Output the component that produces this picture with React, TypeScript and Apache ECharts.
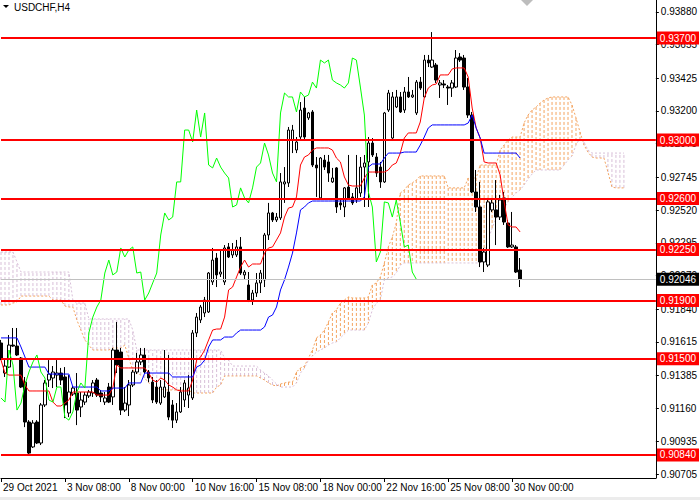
import React, { useEffect, useRef } from "react";
import * as echarts from "echarts";

const FONT = '"Liberation Sans", Arial, sans-serif';

// bottom time labels, one every 16 H4 bars
const xLabels = [
  "29 Oct 2021", "3 Nov 08:00", "8 Nov 00:00", "10 Nov 16:00", "15 Nov 08:00",
  "18 Nov 00:00", "22 Nov 16:00", "25 Nov 08:00", "30 Nov 00:00",
];
const LABEL_STEP = 16;
const SLOTS = 165; // 131 candles + 26 projected cloud bars + free space
const CHIKOU_SHIFT = 26;

const yTicks = [
  0.90705, 0.90935, 0.9116, 0.91385, 0.91615, 0.9184, 0.9207, 0.92295,
  0.9252, 0.92745, 0.92975, 0.932, 0.93425, 0.93655, 0.9388,
];
const priceMin = 0.90682;
const priceMax = 0.93961;

const levels = [0.937, 0.93, 0.926, 0.9225, 0.919, 0.915, 0.9084];
const lastPrice = 0.92046;

// [open, close, low, high]
const candles = [
  [0.91608, 0.91505, 0.91491, 0.91629], [0.91402, 0.9145, 0.91375, 0.91491],
  [0.91443, 0.91594, 0.91437, 0.91663], [0.91594, 0.91587, 0.91581, 0.91711],
  [0.91587, 0.91526, 0.91519, 0.91711], [0.91505, 0.91306, 0.91299, 0.91512],
  [0.9134, 0.91066, 0.91031, 0.91375], [0.91066, 0.90853, 0.9084, 0.91079],
  [0.90895, 0.91059, 0.90888, 0.91079], [0.91066, 0.90922, 0.90915, 0.91079],
  [0.90922, 0.91183, 0.90908, 0.91196], [0.91183, 0.91334, 0.91169, 0.91354],
  [0.91354, 0.91395, 0.91306, 0.91491], [0.91368, 0.91409, 0.91299, 0.9145],
  [0.91388, 0.91402, 0.91306, 0.91491], [0.91402, 0.91354, 0.9132, 0.91437],
  [0.91375, 0.91183, 0.91093, 0.91443], [0.91128, 0.91272, 0.911, 0.91388],
  [0.91258, 0.91299, 0.91245, 0.91313], [0.91265, 0.91148, 0.91045, 0.91402],
  [0.91169, 0.91217, 0.911, 0.91272], [0.91203, 0.91251, 0.91183, 0.91272],
  [0.91245, 0.91272, 0.91231, 0.91286], [0.91265, 0.91334, 0.91238, 0.91354],
  [0.91354, 0.91251, 0.91238, 0.91368], [0.91265, 0.91238, 0.91203, 0.91286],
  [0.91203, 0.91231, 0.91183, 0.91272], [0.91306, 0.91203, 0.91196, 0.91334],
  [0.91238, 0.9156, 0.91183, 0.91574], [0.9156, 0.91457, 0.91402, 0.91752],
  [0.91546, 0.91148, 0.91114, 0.91574], [0.91148, 0.91196, 0.91135, 0.91306],
  [0.91183, 0.9132, 0.91107, 0.91354], [0.9132, 0.91409, 0.91306, 0.91423],
  [0.91409, 0.91478, 0.91395, 0.9154], [0.91478, 0.91526, 0.91457, 0.91574],
  [0.91526, 0.91409, 0.91395, 0.91574], [0.91409, 0.91368, 0.9134, 0.91423],
  [0.9134, 0.91217, 0.91196, 0.91375], [0.91306, 0.91203, 0.9119, 0.91354],
  [0.91196, 0.91306, 0.91183, 0.91354], [0.91238, 0.91306, 0.91231, 0.9156],
  [0.91272, 0.911, 0.91079, 0.91526], [0.91183, 0.91079, 0.91025, 0.91217],
  [0.91079, 0.91135, 0.91059, 0.91196], [0.91135, 0.91272, 0.91128, 0.91306],
  [0.91217, 0.91334, 0.91169, 0.91354], [0.91251, 0.91299, 0.91162, 0.91388],
  [0.91231, 0.91677, 0.91217, 0.91697], [0.91677, 0.91786, 0.91649, 0.91814],
  [0.91766, 0.91855, 0.91745, 0.91869], [0.91814, 0.91903, 0.91786, 0.91924],
  [0.91821, 0.92088, 0.91814, 0.92095], [0.92027, 0.92177, 0.92006, 0.9226],
  [0.92191, 0.92075, 0.91992, 0.92225], [0.92081, 0.92095, 0.92061, 0.92246],
  [0.92027, 0.9226, 0.92006, 0.9228], [0.92267, 0.92198, 0.92191, 0.92294],
  [0.92212, 0.92246, 0.92191, 0.92294], [0.92212, 0.92267, 0.92198, 0.92315],
  [0.92267, 0.92088, 0.92075, 0.92335], [0.92075, 0.92095, 0.92041, 0.92109],
  [0.92006, 0.91903, 0.91889, 0.92095], [0.91903, 0.91951, 0.91869, 0.91972],
  [0.91951, 0.9202, 0.91924, 0.92088], [0.9202, 0.92088, 0.91951, 0.92109],
  [0.92041, 0.92349, 0.91992, 0.92363], [0.92349, 0.925, 0.92315, 0.92569],
  [0.925, 0.92452, 0.92438, 0.92507], [0.92452, 0.92472, 0.92438, 0.925],
  [0.92466, 0.92713, 0.92452, 0.92774], [0.92699, 0.92713, 0.92569, 0.92815],
  [0.92706, 0.93069, 0.92678, 0.9309], [0.93001, 0.93069, 0.92911, 0.93104],
  [0.92932, 0.92987, 0.92911, 0.93021], [0.93021, 0.93206, 0.93001, 0.93261],
  [0.9322, 0.93021, 0.93001, 0.93296], [0.93152, 0.93186, 0.93138, 0.93193],
  [0.93193, 0.92829, 0.92815, 0.93206], [0.92829, 0.92809, 0.9261, 0.92884],
  [0.92603, 0.92877, 0.92589, 0.92884], [0.92863, 0.92815, 0.92795, 0.92898],
  [0.9285, 0.92774, 0.92713, 0.92898], [0.92713, 0.9274, 0.92706, 0.92809],
  [0.92809, 0.92541, 0.925, 0.92815], [0.92569, 0.92555, 0.92521, 0.92589],
  [0.92541, 0.92672, 0.92472, 0.92678], [0.92678, 0.92603, 0.92589, 0.92898],
  [0.9261, 0.92569, 0.92555, 0.92637], [0.92589, 0.92672, 0.92569, 0.92898],
  [0.92637, 0.92815, 0.9261, 0.92884], [0.92815, 0.92843, 0.92541, 0.92898],
  [0.9285, 0.9298, 0.92541, 0.93021], [0.9298, 0.92898, 0.92884, 0.93014],
  [0.92884, 0.92774, 0.92747, 0.92911], [0.92815, 0.92713, 0.92672, 0.9285],
  [0.92713, 0.93186, 0.92706, 0.93193], [0.93206, 0.93323, 0.93193, 0.93344],
  [0.93014, 0.93296, 0.93001, 0.9333], [0.93227, 0.93296, 0.9322, 0.93344],
  [0.93296, 0.93193, 0.93186, 0.9333], [0.93206, 0.9333, 0.93186, 0.93364],
  [0.9333, 0.93296, 0.93289, 0.93433], [0.93296, 0.93309, 0.93289, 0.93344],
  [0.93186, 0.93398, 0.93172, 0.93412], [0.93398, 0.93357, 0.93344, 0.93433],
  [0.93296, 0.93549, 0.93289, 0.93584], [0.93549, 0.93529, 0.93501, 0.93584],
  [0.93501, 0.93549, 0.93495, 0.93741], [0.93515, 0.93412, 0.93392, 0.93529],
  [0.93378, 0.93392, 0.93289, 0.93412], [0.93385, 0.93378, 0.93357, 0.93412],
  [0.93364, 0.93357, 0.93241, 0.93378], [0.93357, 0.93392, 0.93296, 0.93412],
  [0.93364, 0.93563, 0.93357, 0.93618], [0.9357, 0.93549, 0.93536, 0.93597],
  [0.93563, 0.93364, 0.93344, 0.93584], [0.93364, 0.93172, 0.93152, 0.93426],
  [0.93172, 0.92644, 0.92637, 0.93193], [0.92644, 0.92541, 0.92507, 0.92795],
  [0.92541, 0.92164, 0.92129, 0.92713], [0.92164, 0.92232, 0.92095, 0.9226],
  [0.92143, 0.92576, 0.92129, 0.92603], [0.92521, 0.92569, 0.92507, 0.92589],
  [0.92521, 0.92472, 0.9228, 0.92726], [0.92472, 0.92589, 0.92452, 0.92624],
  [0.92603, 0.92438, 0.92418, 0.92644], [0.92431, 0.92267, 0.9226, 0.92452],
  [0.92267, 0.9228, 0.9226, 0.92507], [0.92267, 0.92095, 0.92088, 0.9228],
  [0.92109, 0.92046, 0.91992, 0.92191],
];

// Ichimoku Tenkan-sen (red)
const tenkan = [
  0.91491, 0.91402, 0.91388, 0.91388, 0.91388, 0.91388, 0.9132, 0.91279, 0.91279, 0.91279,
  0.91279, 0.91279, 0.91279, 0.91203, 0.91176, 0.91176, 0.91196, 0.91217, 0.91272, 0.91272,
  0.91272, 0.91272, 0.91272, 0.91272, 0.91251, 0.91251, 0.91251, 0.91251, 0.91299, 0.91457,
  0.91437, 0.91437, 0.91437, 0.91437, 0.91437, 0.91437, 0.91437, 0.91402, 0.91354, 0.9134,
  0.91368, 0.91354, 0.9132, 0.91306, 0.91286, 0.91279, 0.91279, 0.91279, 0.91354, 0.91491,
  0.91512, 0.9156, 0.91629, 0.91697, 0.91704, 0.91704, 0.91786, 0.91972, 0.91992, 0.92061,
  0.92129, 0.92177, 0.92129, 0.9215, 0.9215, 0.9215, 0.92225, 0.9226, 0.92267, 0.92315,
  0.92363, 0.92472, 0.92534, 0.92541, 0.9261, 0.92829, 0.92884, 0.92898, 0.92932, 0.92946,
  0.92946, 0.92946, 0.92946, 0.92932, 0.92877, 0.9285, 0.92747, 0.92692, 0.92685, 0.92685,
  0.92685, 0.9274, 0.92781, 0.92781, 0.92781, 0.92781, 0.92781, 0.92795, 0.92829, 0.92843,
  0.92911, 0.93014, 0.93049, 0.93049, 0.93049, 0.93124, 0.93289, 0.93357, 0.93378, 0.93385,
  0.93447, 0.93447, 0.93447, 0.93488, 0.93495, 0.93495, 0.93495, 0.93433, 0.9322, 0.93083,
  0.93014, 0.9285, 0.92843, 0.92843, 0.92843, 0.92761, 0.92576, 0.92418, 0.92404, 0.92404,
  0.9237,
];

// Ichimoku Kijun-sen (blue)
const kijun = [
  0.91643, 0.91643, 0.91643, 0.91643, 0.91643, 0.91581, 0.91512, 0.91443, 0.91443, 0.91443,
  0.91443, 0.91443, 0.91395, 0.91395, 0.91395, 0.91395, 0.91395, 0.91395, 0.91306, 0.91306,
  0.91306, 0.91306, 0.91306, 0.91306, 0.91306, 0.91279, 0.91279, 0.91279, 0.91299, 0.91299,
  0.91299, 0.91299, 0.91334, 0.91334, 0.91334, 0.91334, 0.91402, 0.91402, 0.91402, 0.91402,
  0.91402, 0.91402, 0.91402, 0.91375, 0.91375, 0.91375, 0.91375, 0.91375, 0.91375, 0.91443,
  0.91457, 0.91491, 0.91581, 0.91629, 0.91629, 0.91629, 0.91649, 0.91649, 0.91649, 0.91677,
  0.91697, 0.91697, 0.91697, 0.91697, 0.91697, 0.91697, 0.91718, 0.91786, 0.918, 0.91855,
  0.91972, 0.92041, 0.92129, 0.92225, 0.92363, 0.92521, 0.92541, 0.92569, 0.92582, 0.92582,
  0.92582, 0.92582, 0.92582, 0.92582, 0.92582, 0.92582, 0.92582, 0.92582, 0.92582, 0.92582,
  0.92582, 0.9261, 0.92815, 0.92836, 0.92836, 0.92836, 0.92877, 0.92911, 0.92911, 0.92911,
  0.92911, 0.92918, 0.92918, 0.92918, 0.92918, 0.92966, 0.93021, 0.93083, 0.93104, 0.93104,
  0.93104, 0.93104, 0.93104, 0.93104, 0.93104, 0.93104, 0.93104, 0.93117, 0.93172, 0.93083,
  0.93014, 0.92911, 0.92911, 0.92911, 0.92911, 0.92911, 0.92911, 0.92911, 0.92911, 0.92911,
  0.92877,
];

// Senkou Span A (sandy brown) and Span B (thistle), 26 bars ahead of price
const spanA = [
  0.91869, 0.91869, 0.91869, 0.91882, 0.91889, 0.9193, 0.9193, 0.9193, 0.9193, 0.9193,
  0.9193, 0.9193, 0.9193, 0.91903, 0.91903, 0.91903, 0.91862, 0.91855, 0.91855, 0.91766,
  0.91697, 0.91629, 0.91594, 0.9156, 0.9156, 0.9156, 0.9156, 0.9156, 0.91574, 0.91574,
  0.91574, 0.91594, 0.91505, 0.91423, 0.91402, 0.91388, 0.91368, 0.91334, 0.91313, 0.91299,
  0.91293, 0.91286, 0.91286, 0.91286, 0.91286, 0.91286, 0.91286, 0.91286, 0.91265, 0.91265,
  0.91265, 0.91265, 0.91265, 0.91265, 0.91306, 0.9132, 0.91382, 0.91382, 0.91382, 0.91382,
  0.91382, 0.91382, 0.91382, 0.91382, 0.91382, 0.91368, 0.91354, 0.91334, 0.9132, 0.91313,
  0.91327, 0.91334, 0.9134, 0.9134, 0.91409, 0.91437, 0.9145, 0.91505, 0.9156, 0.91643,
  0.91663, 0.91697, 0.91752, 0.91814, 0.91835, 0.91882, 0.91903, 0.91924, 0.91917, 0.91917,
  0.91917, 0.91917, 0.91924, 0.92006, 0.9202, 0.92061, 0.92157, 0.92267, 0.92335, 0.92431,
  0.92637, 0.92658, 0.92692, 0.92706, 0.92726, 0.92754, 0.92754, 0.92754, 0.92754, 0.92754,
  0.92754, 0.92754, 0.92672, 0.92672, 0.92672, 0.92672, 0.92672, 0.9274, 0.9274, 0.9274,
  0.92829, 0.92829, 0.92829, 0.92829, 0.92829, 0.92932, 0.92966, 0.93001, 0.93021, 0.93021,
  0.93021, 0.93117, 0.93172, 0.93206, 0.93227, 0.93254, 0.93275, 0.93289, 0.93296, 0.93296,
  0.93296, 0.93296, 0.93296, 0.93241, 0.93152, 0.93056, 0.92966, 0.92918, 0.92884, 0.92877,
  0.92877, 0.92877, 0.92781, 0.92678, 0.92672, 0.92672, 0.92672,
];

const spanB = [
  0.92232, 0.92232, 0.92232, 0.92232, 0.92164, 0.92095, 0.92095, 0.92095, 0.92095, 0.92095,
  0.92095, 0.92095, 0.92095, 0.92095, 0.92095, 0.92095, 0.92095, 0.92095, 0.91903, 0.91882,
  0.91882, 0.91882, 0.91773, 0.91773, 0.91773, 0.91773, 0.91773, 0.91773, 0.91773, 0.91773,
  0.91773, 0.91773, 0.91773, 0.91697, 0.9156, 0.9156, 0.9156, 0.9156, 0.9156, 0.9156,
  0.9156, 0.9156, 0.9156, 0.9156, 0.9156, 0.9156, 0.9156, 0.9156, 0.9156, 0.9156,
  0.9156, 0.9156, 0.9156, 0.9156, 0.9156, 0.9156, 0.91505, 0.91491, 0.9145, 0.9145,
  0.9145, 0.9145, 0.9145, 0.9145, 0.9145, 0.91423, 0.91402, 0.91382, 0.91354, 0.91327,
  0.91306, 0.91306, 0.91306, 0.91306, 0.91334, 0.91402, 0.91437, 0.91491, 0.91519, 0.91546,
  0.9156, 0.91574, 0.91594, 0.91608, 0.91615, 0.91643, 0.9167, 0.91697, 0.91697, 0.91697,
  0.91697, 0.91697, 0.91745, 0.91835, 0.91882, 0.91903, 0.92041, 0.92054, 0.92061, 0.92088,
  0.92143, 0.92157, 0.92157, 0.92157, 0.92157, 0.92157, 0.92157, 0.92157, 0.92157, 0.92157,
  0.92157, 0.92157, 0.92157, 0.92157, 0.92157, 0.92157, 0.92157, 0.92157, 0.92157, 0.92157,
  0.92157, 0.92212, 0.92315, 0.92397, 0.92466, 0.92507, 0.92534, 0.92576, 0.9261, 0.92637,
  0.92658, 0.92692, 0.92733, 0.92767, 0.92795, 0.92795, 0.92795, 0.92795, 0.92795, 0.92795,
  0.92795, 0.92829, 0.92863, 0.92891, 0.92966, 0.93014, 0.92987, 0.92932, 0.92911, 0.92911,
  0.92911, 0.92911, 0.92911, 0.92911, 0.92911, 0.92911, 0.92911,
];

const App = () => {
  const chartRef = useRef<HTMLDivElement>(null);

  useEffect(() => {
    const chart = echarts.init(chartRef.current, null, { renderer: "svg" });

    const slots = Array.from({ length: SLOTS }, (_, i) => String(i));
    const chikou = candles.slice(CHIKOU_SHIFT).map((c) => c[1]);
    const cloud = spanA.map((a, i) => [i, a, spanB[i]]);
    const onLabel = (i: number) =>
      i % LABEL_STEP === 0 && i / LABEL_STEP < xLabels.length;

    chart.setOption({
      animation: false,
      backgroundColor: "#ffffff",
      grid: { left: 0, right: 43, top: 0, bottom: 22 },
      xAxis: {
        type: "category",
        data: slots,
        boundaryGap: false,
        axisLine: { lineStyle: { color: "#000", width: 1 } },
        axisTick: { interval: onLabel, length: 4, lineStyle: { color: "#000" } },
        axisLabel: {
          interval: onLabel,
          formatter: (_v: string, i: number) => xLabels[i / LABEL_STEP] ?? "",
          align: "left",
          margin: 4,
          padding: [0, 0, 0, 2],
          color: "#000",
          fontSize: 10,
          fontFamily: FONT,
        },
        splitLine: { show: false },
      },
      yAxis: {
        type: "value",
        position: "right",
        min: priceMin,
        max: priceMax,
        axisLine: { show: true, lineStyle: { color: "#000", width: 1 } },
        axisTick: {
          show: true,
          length: 3,
          customValues: yTicks,
          lineStyle: { color: "#000" },
        },
        axisLabel: {
          customValues: yTicks,
          formatter: (v: number) => v.toFixed(5),
          margin: 5,
          color: "#000",
          fontSize: 10,
          fontFamily: FONT,
        },
        splitLine: { show: false },
      },
      graphic: [
        {
          type: "polygon",
          shape: { points: [[3, 5], [9, 5], [6, 8]] },
          style: { fill: "#000" },
        },
        {
          type: "text",
          left: 14,
          top: 2,
          style: { text: "USDCHF,H4", fontSize: 10, fontFamily: FONT, fill: "#000" },
        },
        {
          type: "polygon",
          shape: { points: [[521, 0], [533, 0], [527, 6]] },
          style: { fill: "#bdbdbd" },
        },
        {
          type: "rect",
          shape: { x: 0, y: 497, width: 700, height: 3 },
          style: { fill: "#ececec" },
        },
      ],
      series: [
        {
          type: "custom",
          name: "cloud",
          data: cloud,
          encode: { x: 0, y: [1, 2] },
          silent: true,
          z: 1,
          renderItem: (_params: any, api: any) => {
            const i = api.value(0);
            const a = api.value(1);
            const b = api.value(2);
            const pa = api.coord([i, a]);
            const pb = api.coord([i, b]);
            return {
              type: "line",
              shape: { x1: pa[0], y1: pa[1], x2: pb[0], y2: pb[1] },
              style: {
                stroke: a >= b ? "#F4A460" : "#D8BFD8",
                lineWidth: 1,
                lineDash: [3, 2],
              },
            };
          },
        },
        {
          type: "line",
          name: "Span A",
          data: spanA,
          symbol: "none",
          silent: true,
          z: 1,
          lineStyle: { color: "#F4A460", width: 1, type: [2, 2] },
        },
        {
          type: "line",
          name: "Span B",
          data: spanB,
          symbol: "none",
          silent: true,
          z: 1,
          lineStyle: { color: "#D8BFD8", width: 1, type: [2, 2] },
        },
        {
          type: "candlestick",
          data: candles,
          barWidth: 3,
          z: 2,
          itemStyle: {
            color: "#ffffff",
            color0: "#000000",
            borderColor: "#000000",
            borderColor0: "#000000",
            borderWidth: 1,
          },
        },
        {
          type: "line",
          name: "Tenkan",
          data: tenkan,
          symbol: "none",
          z: 3,
          lineStyle: { color: "#FF0000", width: 1 },
        },
        {
          type: "line",
          name: "Kijun",
          data: kijun,
          symbol: "none",
          z: 3,
          lineStyle: { color: "#0000FF", width: 1 },
        },
        {
          type: "line",
          name: "Chikou",
          data: chikou,
          symbol: "none",
          z: 3,
          lineStyle: { color: "#00FF00", width: 1 },
        },
        {
          type: "line",
          name: "levels",
          data: [],
          z: 5,
          markLine: {
            silent: true,
            symbol: ["none", "none"],
            precision: 5,
            label: {
              show: true,
              position: "end",
              distance: 1,
              formatter: (p: any) => Number(p.value).toFixed(5),
              color: "#ffffff",
              fontSize: 10,
              fontFamily: FONT,
              padding: [2, 3, 1, 3],
            },
            data: [
              {
                yAxis: lastPrice,
                lineStyle: { color: "#C0C0C0", width: 1, type: "solid" },
                label: { backgroundColor: "#000000" },
              },
              ...levels.map((v) => ({
                yAxis: v,
                lineStyle: { color: "#FF0000", width: 2, type: "solid" },
                label: { backgroundColor: "#FF0000" },
              })),
            ],
          },
        },
      ],
    });

    return () => chart.dispose();
  }, []);

  return (
    <div
      ref={chartRef}
      style={{ position: "fixed", left: 0, top: 0, width: 700, height: 500 }}
    />
  );
};

export default App;
